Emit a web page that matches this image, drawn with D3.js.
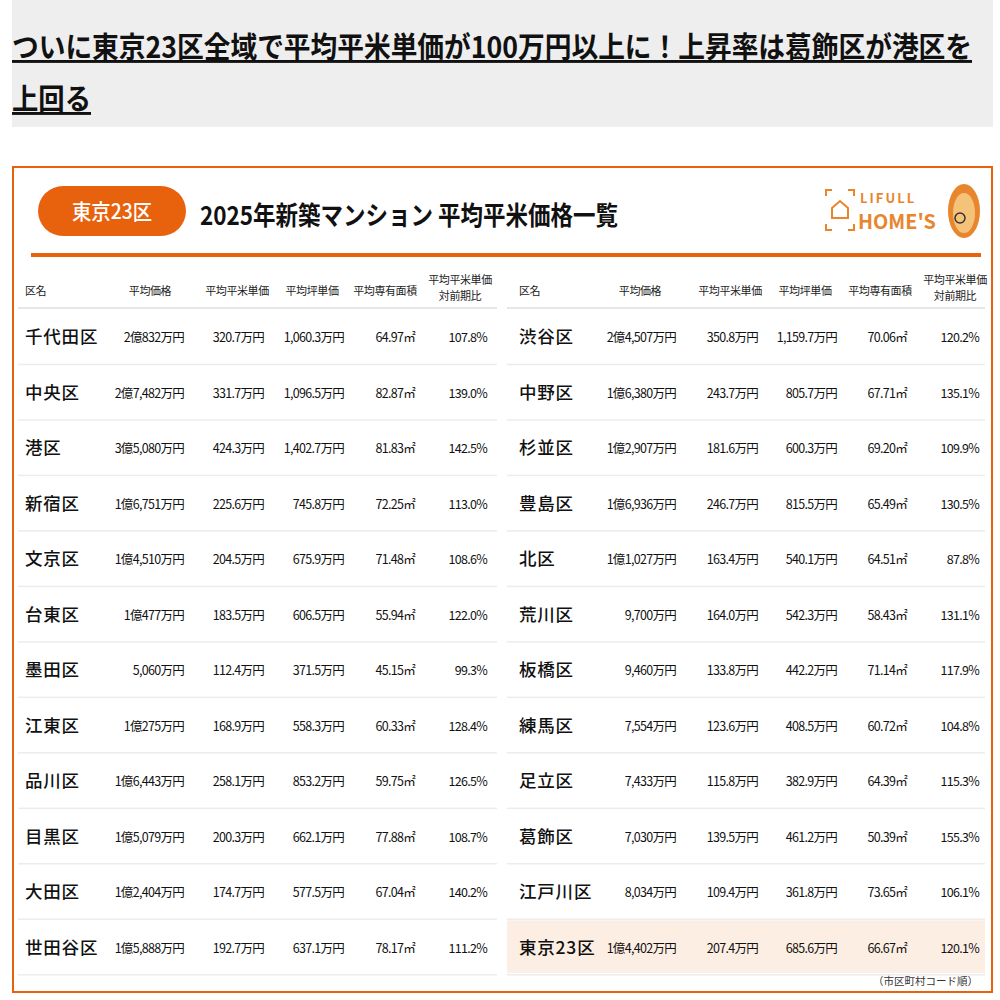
<!DOCTYPE html>
<html><head><meta charset="utf-8">
<script src="https://cdn.jsdelivr.net/npm/d3@7"></script>
<style>body{margin:0;background:#fff}svg{display:block;font-family:"Noto Sans CJK JP","Noto Sans",sans-serif}</style>
</head><body><svg id="c" width="1000" height="1000"></svg>
<script>
var columns = ['区名', '平均価格', '平均平米単価', '平均坪単価', '平均専有面積', '平均平米単価\n対前期比']
var leftWards = ['千代田区','中央区','港区','新宿区','文京区','台東区','墨田区','江東区','品川区','目黒区','大田区','世田谷区']
var leftPrice = ['2億832万円','2億7,482万円','3億5,080万円','1億6,751万円','1億4,510万円','1億477万円','5,060万円','1億275万円','1億6,443万円','1億5,079万円','1億2,404万円','1億5,888万円']
var leftSqm = ['320.7万円','331.7万円','424.3万円','225.6万円','204.5万円','183.5万円','112.4万円','168.9万円','258.1万円','200.3万円','174.7万円','192.7万円']
var leftTsubo = ['1,060.3万円','1,096.5万円','1,402.7万円','745.8万円','675.9万円','606.5万円','371.5万円','558.3万円','853.2万円','662.1万円','577.5万円','637.1万円']
var leftArea = ['64.97㎡','82.87㎡','81.83㎡','72.25㎡','71.48㎡','55.94㎡','45.15㎡','60.33㎡','59.75㎡','77.88㎡','67.04㎡','78.17㎡']
var leftRatio = ['107.8%','139.0%','142.5%','113.0%','108.6%','122.0%','99.3%','128.4%','126.5%','108.7%','140.2%','111.2%']
var rightWards = ['渋谷区','中野区','杉並区','豊島区','北区','荒川区','板橋区','練馬区','足立区','葛飾区','江戸川区','東京23区']
var rightPrice = ['2億4,507万円','1億6,380万円','1億2,907万円','1億6,936万円','1億1,027万円','9,700万円','9,460万円','7,554万円','7,433万円','7,030万円','8,034万円','1億4,402万円']
var rightSqm = ['350.8万円','243.7万円','181.6万円','246.7万円','163.4万円','164.0万円','133.8万円','123.6万円','115.8万円','139.5万円','109.4万円','207.4万円']
var rightTsubo = ['1,159.7万円','805.7万円','600.3万円','815.5万円','540.1万円','542.3万円','442.2万円','408.5万円','382.9万円','461.2万円','361.8万円','685.6万円']
var rightArea = ['70.06㎡','67.71㎡','69.20㎡','65.49㎡','64.51㎡','58.43㎡','71.14㎡','60.72㎡','64.39㎡','50.39㎡','73.65㎡','66.67㎡']
var rightRatio = ['120.2%','135.1%','109.9%','130.5%','87.8%','131.1%','117.9%','104.8%','115.3%','155.3%','106.1%','120.1%']

var orange = '#e8620e'
var svg = d3.select('#c')

// page title
svg.append('rect').attr('x', 12).attr('y', 0).attr('width', 981).attr('height', 127).attr('fill', '#eeeeee')
var title = ['ついに東京23区全域で平均平米単価が100万円以上に！上昇率は葛飾区が港区を', '上回る']
title.forEach(function(t, i) {
  var tx = svg.append('text').attr('x', 12).attr('y', 58 + i * 52)
      .attr('font-size', 29).attr('font-weight', 700).attr('fill', '#111')
      .attr('text-decoration', 'underline').text(t)
  if (i === 0) tx.attr('textLength', 960).attr('lengthAdjust', 'spacingAndGlyphs')
  else tx.attr('textLength', 79).attr('lengthAdjust', 'spacingAndGlyphs')
})

// card
svg.append('rect').attr('x', 13).attr('y', 167).attr('width', 979).attr('height', 825)
    .attr('fill', '#fff').attr('stroke', orange).attr('stroke-width', 2)
svg.append('rect').attr('x', 38).attr('y', 186).attr('width', 148).attr('height', 50).attr('rx', 25).attr('fill', orange)
svg.append('text').attr('x', 112).attr('y', 219).attr('text-anchor', 'middle')
    .attr('font-size', 21).attr('font-weight', 500).attr('fill', '#fff')
    .attr('textLength', 80).attr('lengthAdjust', 'spacingAndGlyphs').text('東京23区')
svg.append('text').attr('x', 200).attr('y', 225).attr('font-size', 26).attr('font-weight', 700)
    .attr('fill', '#111').attr('textLength', 418).attr('lengthAdjust', 'spacingAndGlyphs')
    .text('2025年新築マンション 平均平米価格一覧')
svg.append('rect').attr('x', 31).attr('y', 253).attr('width', 950).attr('height', 4).attr('fill', orange)

// logo
var logo = svg.append('g')
logo.append('path').attr('d', 'M826,196 v-6 h6 M826,224 v6 h6 M848,190 h6 v6 M848,230 h6 v-6')
    .attr('fill', 'none').attr('stroke', '#e8862e').attr('stroke-width', 2)
logo.append('path').attr('d', 'M832,218 v-10 l8,-7 l8,7 v10 z').attr('fill', 'none').attr('stroke', '#e8862e').attr('stroke-width', 2)
logo.append('text').attr('x', 860).attr('y', 203).attr('font-size', 13).attr('font-weight', 700)
    .attr('fill', '#e8862e').attr('letter-spacing', 2).text('LIFULL')
logo.append('text').attr('x', 858).attr('y', 229).attr('font-size', 20).attr('font-weight', 700)
    .attr('fill', '#e8862e').attr('textLength', 78).attr('lengthAdjust', 'spacingAndGlyphs').text("HOME'S")
logo.append('ellipse').attr('cx', 964).attr('cy', 211).attr('rx', 16).attr('ry', 27).attr('fill', '#e8862e')
logo.append('ellipse').attr('cx', 964).attr('cy', 213).attr('rx', 11).attr('ry', 20).attr('fill', '#f5c27a')
logo.append('circle').attr('cx', 960).attr('cy', 218).attr('r', 5).attr('fill', 'none').attr('stroke', '#333').attr('stroke-width', 1.5)

// tables
var rowY = d3.scaleBand().domain(d3.range(12)).range([310, 973]).paddingInner(0.05)

function table(x0, x1, names, cols, colX, headX, highlightLast) {
  var g = svg.append('g')
  columns.forEach(function(c, i) {
    var lines = c.split('\n')
    lines.forEach(function(l, j) {
      g.append('text').attr('x', headX[i]).attr('y', lines.length > 1 ? 284 + j * 16 : 295)
          .attr('text-anchor', i === 0 ? 'start' : 'middle').attr('font-size', 11)
          .attr('letter-spacing', -0.4).attr('fill', '#222').text(l)
    })
  })
  g.append('rect').attr('x', x0).attr('y', 307).attr('width', x1 - x0).attr('height', 2).attr('fill', '#e6e6e6')
  names.forEach(function(n, r) {
    var y = rowY(r), h = rowY.bandwidth()
    if (highlightLast && r === names.length - 1)
      g.append('rect').attr('x', x0).attr('y', y).attr('width', x1 - x0).attr('height', h).attr('fill', '#fdeee4')
    g.append('rect').attr('x', x0).attr('y', y + h + 1).attr('width', x1 - x0).attr('height', 1.5).attr('fill', '#ececec')
    var cy = y + h / 2 + 6
    g.append('text').attr('x', colX[0]).attr('y', cy + 1).attr('font-size', 17.5).attr('font-weight', 500)
        .attr('letter-spacing', 0.8).attr('fill', '#111').text(n)
    cols.forEach(function(arr, i) {
      g.append('text').attr('x', colX[i + 1]).attr('y', cy).attr('text-anchor', 'end')
          .attr('font-size', 12.5).attr('letter-spacing', -0.7).attr('fill', '#111').text(arr[r])
    })
  })
}

table(18, 497, leftWards, [leftPrice, leftSqm, leftTsubo, leftArea, leftRatio],
  [25, 184, 264, 344, 415, 487], [25, 150, 237, 312, 385, 460], false)
table(507, 985, rightWards, [rightPrice, rightSqm, rightTsubo, rightArea, rightRatio],
  [519, 676, 758, 837, 907, 979], [519, 640, 730, 805, 880, 955], true)

svg.append('text').attr('x', 978).attr('y', 985).attr('text-anchor', 'end').attr('font-size', 10.5)
    .attr('fill', '#333').text('（市区町村コード順）')
</script></body></html>
